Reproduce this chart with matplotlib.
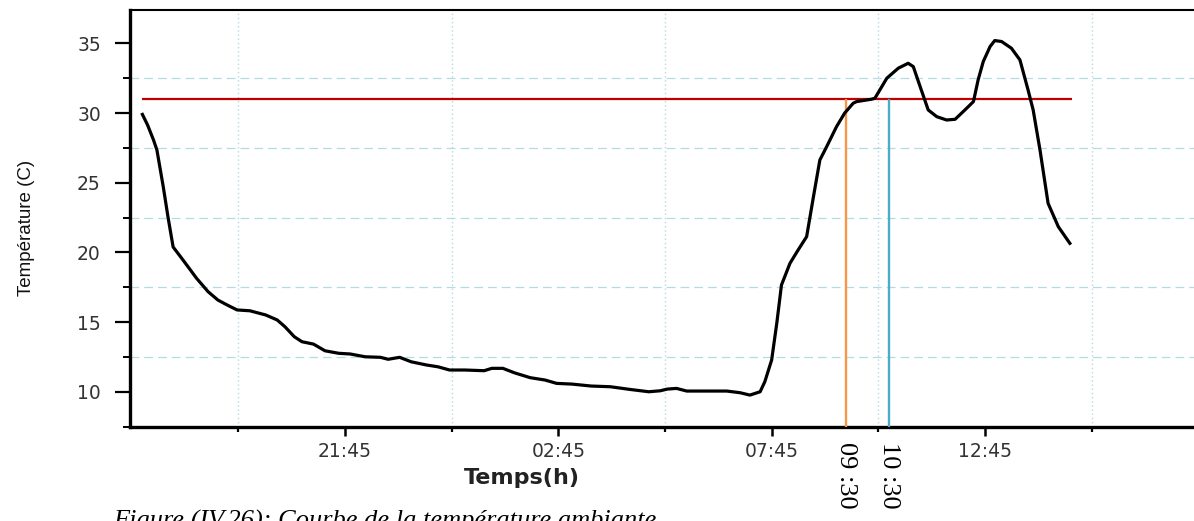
import matplotlib
matplotlib.use("Agg")
import matplotlib.pyplot as plt
from matplotlib.ticker import FixedLocator

# temps en heures depuis minuit du premier jour (24.5 = 00:30 le lendemain)
heures = [17.00, 17.12, 17.26, 17.34, 17.49, 17.60, 17.72, 17.95, 18.27, 18.54,
          18.77, 18.99, 19.22, 19.52, 19.89, 20.16, 20.34, 20.56, 20.74, 21.01,
          21.28, 21.60, 21.87, 22.22, 22.58, 22.76, 23.03, 23.30, 23.66, 23.93,
          24.20, 24.56, 25.01, 25.19, 25.45, 25.72, 26.09, 26.44, 26.71, 27.07,
          27.52, 27.97, 28.42, 28.87, 29.14, 29.30, 29.52, 29.76, 30.23, 30.70,
          31.01, 31.24, 31.48, 31.59, 31.75, 31.87, 31.98, 32.18, 32.37, 32.57,
          32.73, 32.88, 33.04, 33.27, 33.46, 33.66, 33.74, 34.09, 34.17, 34.45,
          34.72, 34.95, 35.07, 35.23, 35.42, 35.62, 35.85, 36.05, 36.28, 36.48,
          36.59, 36.71, 36.87, 36.98, 37.14, 37.37, 37.57, 37.76, 37.88, 38.04,
          38.23, 38.47, 38.74]
temperature = [29.90, 29.15, 28.07, 27.35, 24.69, 22.54, 20.39, 19.46, 18.14, 17.18,
               16.58, 16.22, 15.87, 15.81, 15.51, 15.15, 14.67, 13.95, 13.59, 13.42,
               12.94, 12.76, 12.71, 12.51, 12.47, 12.33, 12.47, 12.15, 11.92, 11.79,
               11.56, 11.56, 11.51, 11.68, 11.68, 11.36, 11.01, 10.84, 10.60, 10.55,
               10.41, 10.36, 10.17, 10.00, 10.07, 10.19, 10.24, 10.05, 10.05, 10.05,
               9.93, 9.76, 10.00, 10.72, 12.28, 14.91, 17.66, 19.22, 20.17, 21.13,
               24.00, 26.63, 27.59, 29.02, 29.99, 30.70, 30.82, 30.99, 31.06, 32.50,
               33.22, 33.57, 33.33, 31.90, 30.22, 29.74, 29.50, 29.55, 30.22, 30.82,
               32.38, 33.69, 34.77, 35.20, 35.13, 34.65, 33.81, 31.66, 30.22, 27.35,
               23.52, 21.84, 20.65]

seuil = 31.0
seuil_debut, seuil_fin = 17.0, 38.79
h_orange, lab_orange = 33.5, "09 :30"
h_bleu, lab_bleu = 34.5, "10 :30"

xticks_maj = [21.75, 26.75, 31.75, 36.75]
xticks_lab = ["21:45", "02:45", "07:45", "12:45"]
xticks_min = [19.25, 24.25, 29.25, 34.25, 39.25]
yticks_maj = [10, 15, 20, 25, 30, 35]
yticks_min = [7.5, 12.5, 17.5, 22.5, 27.5, 32.5]

xmin, xmax = 16.71, 41.65
ymin, ymax = 7.47, 37.40

fig = plt.figure(figsize=(11.94, 5.21), dpi=100)
ax = fig.add_axes([0.1089, 0.1804, 0.8911, 0.8006])

ax.plot(heures, temperature, color="black", lw=2.3, zorder=4)
ax.hlines(seuil, seuil_debut, seuil_fin, color="#c00000", lw=1.6, zorder=3)
ax.vlines(h_orange, ymin, seuil, color="#f79646", lw=1.7, zorder=3)
ax.vlines(h_bleu, ymin, seuil, color="#4bacc6", lw=1.7, zorder=3)

ax.set_xlim(xmin, xmax)
ax.set_ylim(ymin, ymax)

ax.xaxis.set_major_locator(FixedLocator(xticks_maj))
ax.set_xticklabels(xticks_lab)
ax.xaxis.set_minor_locator(FixedLocator(xticks_min))
ax.yaxis.set_major_locator(FixedLocator(yticks_maj))
ax.yaxis.set_minor_locator(FixedLocator(yticks_min))

# grille sur les graduations secondaires
ax.grid(which="minor", axis="y", color="#b3dbe4", lw=0.9, ls=(0, (7, 4)))
ax.grid(which="minor", axis="x", color="#b3dbe4", lw=1.0, ls=(0, (1, 2)))
ax.grid(which="major", visible=False)

for s in ["left", "bottom"]:
    ax.spines[s].set_linewidth(2.4)
ax.spines["top"].set_linewidth(1.5)
ax.spines["right"].set_visible(False)

ax.tick_params(axis="y", which="major", direction="out", length=11, width=1.6,
               pad=10, labelsize=13.5, labelcolor="#333333")
ax.tick_params(axis="y", which="minor", direction="out", length=5, width=1.4)
ax.tick_params(axis="x", which="major", direction="out", length=6.5, width=1.8,
               pad=4, labelsize=13.5, labelcolor="#333333")
ax.tick_params(axis="x", which="minor", direction="out", length=3.5, width=1.6)

ax.set_xlabel("Temps(h)", fontsize=16, fontweight="bold", color="#222222")
ax.xaxis.label.set_va("center")
ax.xaxis.set_label_coords(0.368, -0.122)

ax.set_ylabel("Température (C)", fontsize=13.5, family="Liberation Sans", color="#111111")
ax.yaxis.label.set(rotation_mode="default", ha="center", va="center")
ax.yaxis.set_label_coords(-0.0977, 0.477)

# heures de franchissement du seuil, écrites verticalement sous l'axe
for h, lab in [(h_orange, lab_orange), (h_bleu, lab_bleu)]:
    ax.text(h, -0.037, lab, transform=ax.get_xaxis_transform(), rotation=-90,
            ha="center", va="top", fontsize=19, family="Liberation Serif")

fig.text(0.095, -0.012, "Figure (IV.26): Courbe de la température ambiante",
         fontsize=19, style="italic", family="Liberation Serif", va="baseline")

fig.savefig("out.png", dpi=100)
